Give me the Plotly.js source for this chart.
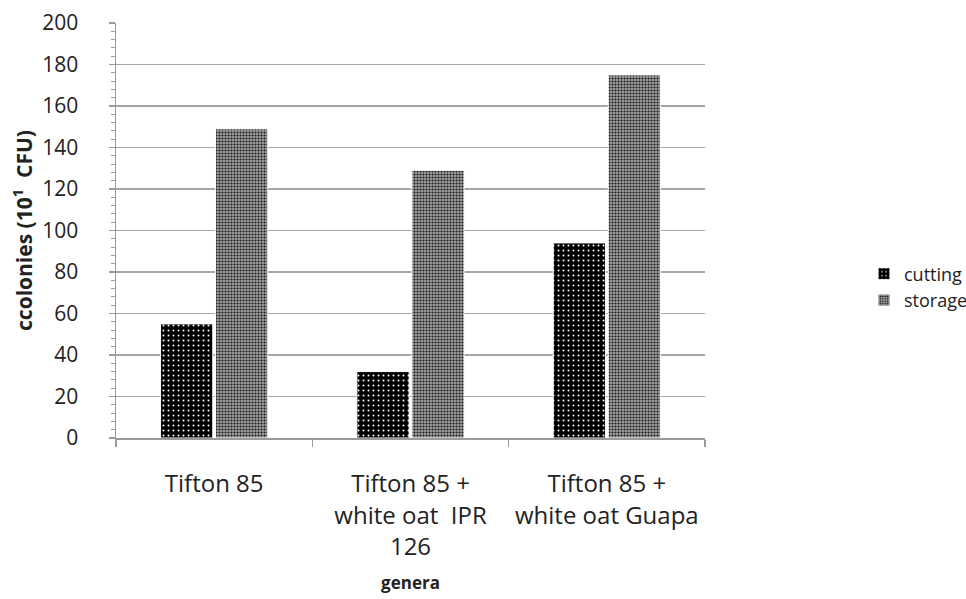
<!DOCTYPE html>
<html>
<head>
<meta charset="utf-8">
<script src="https://cdn.plot.ly/plotly-3.0.1.min.js"></script>
<style>html,body{margin:0;padding:0;background:#fff;}#chart{width:966px;height:599px;}</style>
</head>
<body>
<div id="chart"></div>
<script>
var categories = ["Tifton 85", "Tifton 85 +<br>white oat\u00a0 IPR<br>126", "Tifton 85 +<br>white oat Guapa"];
var cutting = [55, 32, 94];
var storage = [149, 129, 175];
var yTicks = [0, 20, 40, 60, 80, 100, 120, 140, 160, 180, 200];

var font = "Open Sans, Lato, sans-serif";
var plotW = 966 - 116 - 20;

var traces = [
  {
    type: "bar", name: "cutting", x: categories, y: cutting,
    marker: {
      color: "#000",
      pattern: {shape: ".", bgcolor: "#000", fgcolor: "#fff", size: 5, solidity: 0.12, fillmode: "replace"},
      line: {color: "#fff", width: 1}
    }
  },
  {
    type: "bar", name: "storage", x: categories, y: storage,
    marker: {
      color: "#888",
      pattern: {shape: ".", bgcolor: "#a0a0a0", fgcolor: "#1a1a1a", size: 3, solidity: 0.4, fillmode: "replace"},
      line: {color: "#fff", width: 1}
    }
  }
];

var layout = {
  width: 966, height: 599,
  margin: {l: 116, r: 20, t: 23, b: 161, autoexpand: false},
  paper_bgcolor: "#fff", plot_bgcolor: "#fff",
  font: {family: font, size: 21, color: "#222"},
  barmode: "group", bargap: 0.44, bargroupgap: 0.05,
  showlegend: true,
  legend: {x: (864 - 116) / plotW, xanchor: "left", y: (438 - 287) / 415, yanchor: "middle",
           font: {family: font, size: 18, color: "#222"}, tracegroupgap: 0, itemwidth: 30, bgcolor: "rgba(0,0,0,0)"},
  xaxis: {
    type: "category",
    domain: [0, 589 / plotW],
    showline: true, linecolor: "#9a9a9a", linewidth: 1.5,
    ticks: "outside", tickson: "boundaries", ticklen: 7, tickcolor: "#9a9a9a", tickwidth: 1.5,
    ticklabelstandoff: 24, tickangle: 0,
    tickfont: {family: font, size: 24, color: "#222"},
    title: {text: "<b>genera</b>", font: {family: font, size: 17, color: "#222"}, standoff: 16},
    showgrid: false, zeroline: false
  },
  yaxis: {
    range: [0, 200], tickvals: yTicks, ticktext: yTicks.map(String),
    showline: true, linecolor: "#9a9a9a", linewidth: 1.5,
    ticks: "outside", ticklen: 6, tickcolor: "#9a9a9a", tickwidth: 1.5,
    ticklabelstandoff: 26,
    minor: {dtick: 4, ticks: "outside", ticklen: 4, tickcolor: "#9a9a9a", tickwidth: 1, showgrid: false},
    showgrid: true, gridcolor: "#a6a6a6", gridwidth: 1.5,
    zeroline: false,
    tickfont: {family: font, size: 21, color: "#222"},
    title: {text: "<b>ccolonies (10<sup>1</sup>  CFU)</b>", font: {family: font, size: 21, color: "#222"}, standoff: 4}
  }
};

Plotly.newPlot("chart", traces, layout, {displayModeBar: false, staticPlot: true});
</script>
</body>
</html>
